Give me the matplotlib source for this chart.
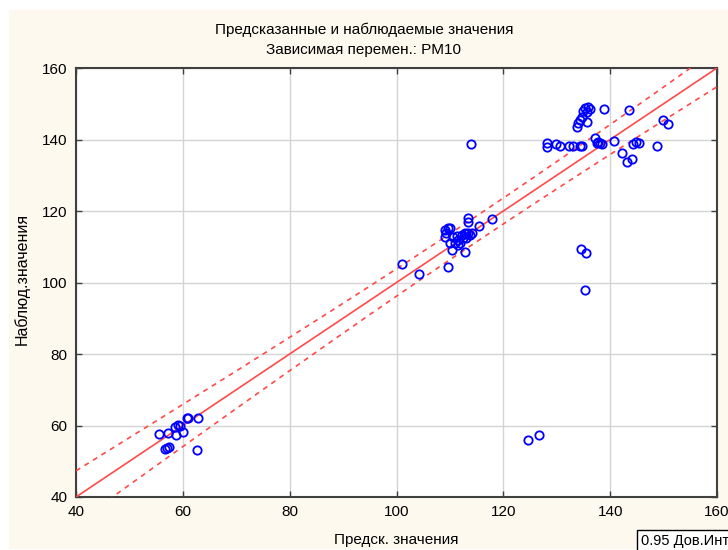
import matplotlib
matplotlib.use("Agg")
import matplotlib.pyplot as plt
from matplotlib.patches import Rectangle
import numpy as np

pred = [55.6, 57.3, 58.5, 59.1, 59.5, 58.8, 60.0, 60.7, 61.0, 62.8,
        56.7, 57.1, 57.5, 62.6,
        101.0, 104.3, 109.6, 112.8,
        109.1, 109.3, 109.7, 110.0, 109.1,
        113.4, 113.3, 115.4, 117.8,
        110.6, 111.3, 111.6, 111.9, 112.2, 112.8, 113.1, 113.4, 113.8, 114.1,
        112.5, 113.1, 110.0, 110.9, 110.3, 111.6,
        113.9, 124.6, 126.7, 134.5, 135.5, 135.3,
        135.3, 135.8, 136.2, 135.0, 135.6, 138.8,
        134.7, 134.3, 134.0, 133.8, 135.7, 143.5, 149.9, 150.8,
        128.1, 128.1, 129.9, 130.6, 132.3, 133.1, 134.3, 134.7,
        137.2, 137.8, 137.5, 138.1, 138.4, 140.8,
        142.3, 143.1, 144.0, 144.3, 144.9, 145.4, 148.8]
obs = [57.5, 57.8, 59.5, 60.1, 59.9, 57.3, 58.3, 62.0, 62.2, 62.0,
       53.3, 53.6, 53.9, 53.1,
       105.2, 102.3, 104.4, 108.5,
       114.7, 113.8, 115.2, 115.2, 112.8,
       118.0, 116.8, 115.9, 117.7,
       112.8, 113.0, 111.9, 111.0, 113.3, 113.8, 113.6, 113.9, 113.3, 113.8,
       112.4, 112.4, 111.0, 111.0, 109.1, 110.5,
       138.7, 56.0, 57.3, 109.4, 108.2, 97.9,
       148.8, 149.0, 148.6, 148.0, 147.6, 148.5,
       146.4, 145.5, 144.6, 143.5, 144.9, 148.2, 145.5, 144.3,
       138.9, 137.8, 138.7, 138.3, 138.3, 138.3, 138.3, 138.2,
       140.3, 139.4, 139.1, 138.9, 138.7, 139.7,
       136.3, 133.8, 134.5, 138.7, 139.4, 139.1, 138.2]

# fitted line and 0.95 band
fit_slope = 1.0
fit_icpt = 0.0
band_centre = 115.0
band_min = 3.6
band_grow = 0.085

x_ticks = [40, 60, 80, 100, 120, 140, 160]
y_ticks = [40, 60, 80, 100, 120, 140, 160]

plt.rcParams['font.family'] = ['Liberation Sans', 'DejaVu Sans']

fig = plt.figure(figsize=(7.28, 5.5), dpi=100, facecolor='white')
fig.patches.append(Rectangle((9 / 728, 1 / 550), 1.0, 1 - 11 / 550,
                             transform=fig.transFigure, facecolor='#fdf9ef',
                             edgecolor='none', zorder=-10))

ax = fig.add_axes([76 / 728, 1 - 497 / 550, 641 / 728, 429 / 550])
ax.set_facecolor('white')

xs = np.linspace(40, 160, 200)
line = fit_icpt + fit_slope * xs
hw = np.sqrt(band_min ** 2 + (band_grow * (xs - band_centre)) ** 2)
ax.plot(xs, line, color='#ff4a4a', lw=1.2, zorder=3)
ax.plot(xs, line + hw, color='#ff4a4a', lw=1.2, ls=(0, (3, 3)), zorder=3)
ax.plot(xs, line - hw, color='#ff4a4a', lw=1.2, ls=(0, (3, 3)), zorder=3)

ax.plot(pred, obs, 'o', mfc='none', mec='#0000ff', mew=1.3, ms=6, zorder=4)

ax.set_xlim(40, 160)
ax.set_ylim(40, 160)
ax.set_xticks(x_ticks)
ax.set_yticks(y_ticks)
ax.grid(True, color='#d4d4d4', lw=1)
ax.set_axisbelow(True)
for s in ax.spines.values():
    s.set_color('#404040')
    s.set_linewidth(1.5)
ax.tick_params(direction='in', length=4, width=1, color='#404040',
               top=True, right=True, labelsize=11, pad=6)

fig.text(0.5, 1 - 30 / 550, 'Предсказанные и наблюдаемые значения',
         ha='center', va='center', fontsize=11)
fig.text(0.5, 1 - 50 / 550, 'Зависимая перемен.: PM10',
         ha='center', va='center', fontsize=11)
fig.text(396 / 728, 1 - 540 / 550, 'Предск. значения', ha='center', va='center',
         fontsize=11)
fig.text(22 / 728, 1 - 279 / 550, 'Наблюд.значения', ha='center', va='center',
         rotation=90, fontsize=11.5)
fig.text(641 / 728, 1 - 541 / 550, '0.95 Дов.Инт', ha='left', va='center',
         fontsize=10.5,
         bbox=dict(boxstyle='square,pad=0.25', facecolor='white',
                   edgecolor='black', lw=1))

fig.savefig('out.png', dpi=100, facecolor=fig.get_facecolor())
